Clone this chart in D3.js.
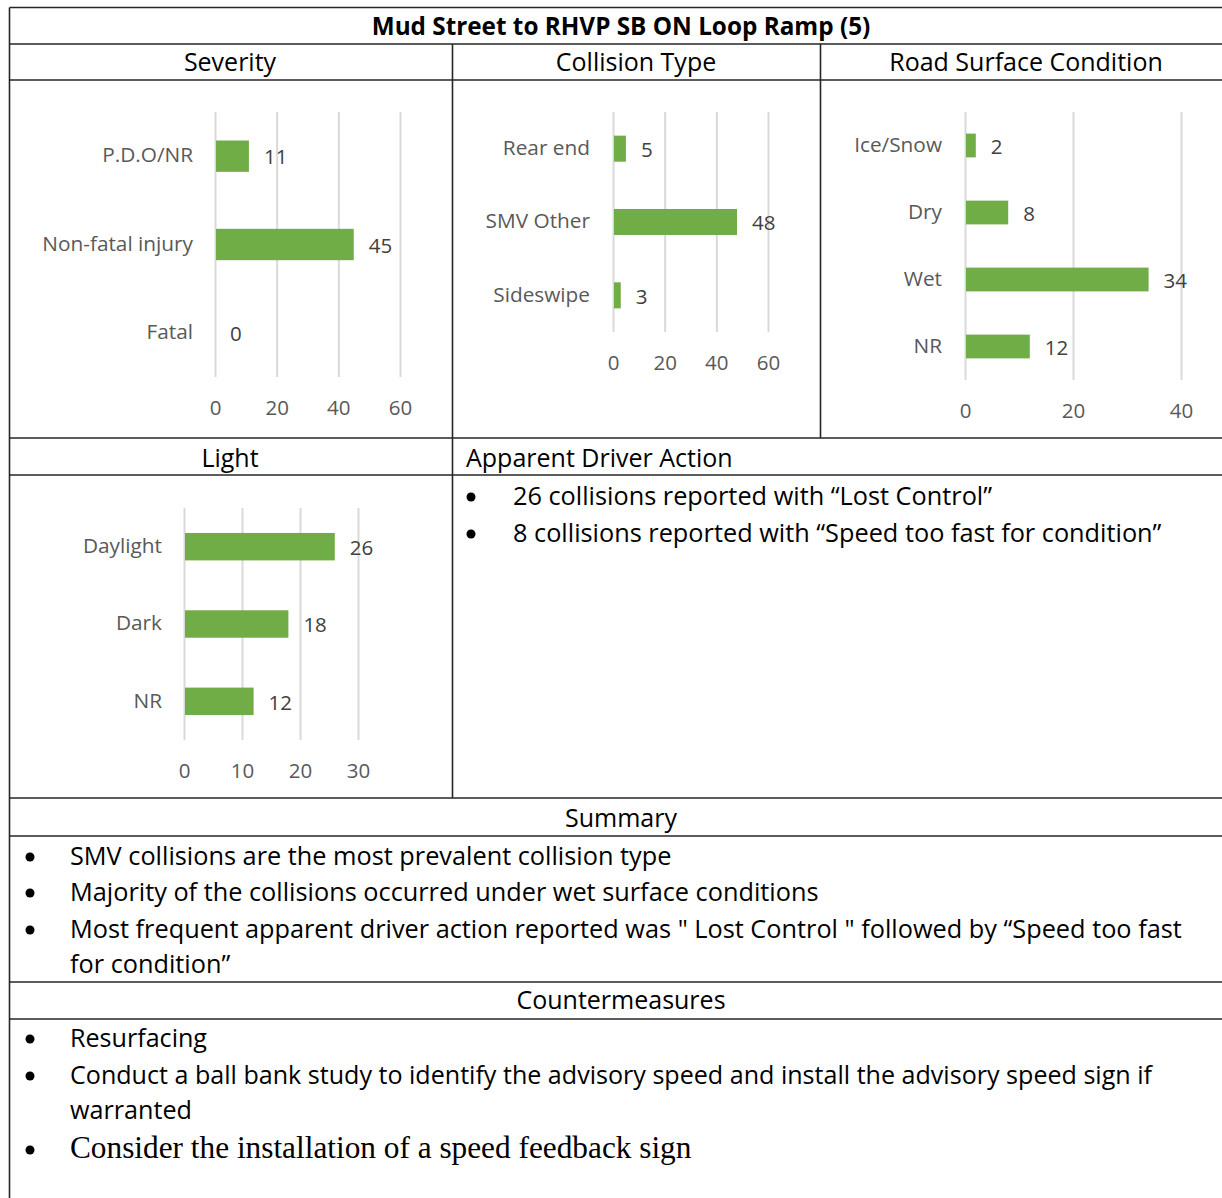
<!DOCTYPE html>
<html>
<head>
<meta charset="utf-8">
<script src="https://cdn.jsdelivr.net/npm/d3@7"></script>
<style>
  body { margin: 0; background: #fff; }
  svg text { font-family: "Open Sans", Lato, "Noto Sans", sans-serif; }
</style>
</head>
<body>
<div id="chart"></div>
<script>
// Data
const title = "Mud Street to RHVP SB ON Loop Ramp (5)";

const severityCats = ["P.D.O/NR", "Non-fatal injury", "Fatal"];
const severityVals = [11, 45, 0];
const severityTicks = [0, 20, 40, 60];

const collisionCats = ["Rear end", "SMV Other", "Sideswipe"];
const collisionVals = [5, 48, 3];
const collisionTicks = [0, 20, 40, 60];

const surfaceCats = ["Ice/Snow", "Dry", "Wet", "NR"];
const surfaceVals = [2, 8, 34, 12];
const surfaceTicks = [0, 20, 40];

const lightCats = ["Daylight", "Dark", "NR"];
const lightVals = [26, 18, 12];
const lightTicks = [0, 10, 20, 30];

const driverActions = [
  "26 collisions reported with \u201cLost Control\u201d",
  "8 collisions reported with \u201cSpeed too fast for condition\u201d"
];
const summaryLines = [
  "SMV collisions are the most prevalent collision type",
  "Majority of the collisions occurred under wet surface conditions",
  "Most frequent apparent driver action reported was \" Lost Control \" followed by \u201cSpeed too fast",
  "for condition\u201d"
];
const summaryBullets = [true, true, true, false];
const countermeasures = [
  "Resurfacing",
  "Conduct a ball bank study to identify the advisory speed and install the advisory speed sign if",
  "warranted",
  "Consider the installation of a speed feedback sign"
];
const counterBullets = [true, true, false, true];

const width = 1222;
const height = 1198;
const barColor = "#70ad47";
const gridColor = "#d9d9d9";
const labelColor = "#595959";
const lineColor = "#262626";
const chartFont = 20.8;
const textFont = 25.3;

const svg = d3.select("#chart")
  .append("svg")
  .attr("width", width)
  .attr("height", height);

// Table grid
const L = 9.5, R = 1224;
const rows = [7.5, 44, 80, 438, 475, 798, 836, 982, 1019];
const grid = svg.append("g")
  .attr("stroke", lineColor)
  .attr("stroke-width", 1.6)
  .attr("fill", "none");
rows.forEach(y => grid.append("line").attr("x1", L).attr("x2", R).attr("y1", y).attr("y2", y));
grid.append("line").attr("x1", L).attr("x2", L).attr("y1", 7.5).attr("y2", height);
grid.append("line").attr("x1", 452.5).attr("x2", 452.5).attr("y1", 44).attr("y2", 798);
grid.append("line").attr("x1", 820.5).attr("x2", 820.5).attr("y1", 44).attr("y2", 438);

// Header texts
function header(x, y, txt, anchor = "middle", weight = "normal", size = 25) {
  return svg.append("text")
    .attr("x", x).attr("y", y)
    .attr("text-anchor", anchor)
    .attr("font-size", size)
    .attr("font-weight", weight)
    .attr("fill", "#000")
    .text(txt);
}
header(621, 35, title, "middle", "bold", 24.3);
header(230, 71, "Severity");
header(636, 71, "Collision Type");
header(1026, 71, "Road Surface Condition");
header(230, 467, "Light");
header(466, 467, "Apparent Driver Action", "start");
header(621, 827, "Summary");
header(621, 1009, "Countermeasures");

// Bar chart helper
function barChart(cats, vals, ticks, x0, x1, y0, y1, labelGap) {
  const g = svg.append("g");
  const x = d3.scaleLinear().domain([0, d3.max(ticks)]).range([x0, x1]);
  const y = d3.scaleBand().domain(cats).range([y0, y1])
    .paddingInner(0.645).paddingOuter(0.3225);

  // gridlines
  g.append("g")
    .attr("transform", `translate(0,${y1})`)
    .call(d3.axisBottom(x).tickValues(ticks).tickSize(-(y1 - y0)).tickFormat(""))
    .call(a => a.select(".domain").remove())
    .call(a => a.selectAll("line").attr("stroke", gridColor).attr("stroke-width", 2));

  // tick labels
  g.append("g")
    .attr("transform", `translate(0,${y1})`)
    .call(d3.axisBottom(x).tickValues(ticks).tickSize(0).tickPadding(23))
    .call(a => a.select(".domain").remove())
    .call(a => a.selectAll("text")
      .attr("font-size", 20.5)
      .attr("fill", labelColor)
      .attr("font-family", "'Open Sans', Lato, 'Noto Sans', sans-serif"));

  // bars
  g.selectAll("rect.bar")
    .data(cats)
    .join("rect")
    .attr("class", "bar")
    .attr("x", x(0) + 1)
    .attr("y", d => y(d))
    .attr("width", (d, i) => Math.max(0, x(vals[i]) - x(0) - 1))
    .attr("height", y.bandwidth())
    .attr("fill", barColor);

  // category labels
  g.selectAll("text.cat")
    .data(cats)
    .join("text")
    .attr("class", "cat")
    .attr("x", x(0) - labelGap)
    .attr("y", d => y(d) + y.bandwidth() / 2 - 1)
    .attr("dy", "0.35em")
    .attr("text-anchor", "end")
    .attr("font-size", chartFont)
    .attr("fill", labelColor)
    .text(d => d);

  // value labels
  g.selectAll("text.val")
    .data(cats)
    .join("text")
    .attr("class", "val")
    .attr("x", (d, i) => x(vals[i]) + 15)
    .attr("y", d => y(d) + y.bandwidth() / 2 + 1)
    .attr("dy", "0.35em")
    .attr("font-size", 20.5)
    .attr("fill", "#404040")
    .text((d, i) => vals[i]);
}

barChart(severityCats, severityVals, severityTicks, 215, 400, 112, 377, 22);
barChart(collisionCats, collisionVals, collisionTicks, 613, 768, 112, 332, 23);
barChart(surfaceCats, surfaceVals, surfaceTicks, 965, 1181, 112, 380, 23);
barChart(lightCats, lightVals, lightTicks, 184, 358, 508, 740, 22);

// Bulleted text blocks
function bullets(lines, flags, bx, tx, ys, opts = {}) {
  lines.forEach((t, i) => {
    if (flags[i]) {
      svg.append("circle")
        .attr("cx", bx).attr("cy", ys[i] - 8)
        .attr("r", 4.5)
        .attr("fill", "#000");
    }
    const el = svg.append("text")
      .attr("x", tx).attr("y", ys[i])
      .attr("font-size", (opts.sizes && opts.sizes[i]) || textFont)
      .attr("fill", "#000")
      .text(t);
    if (opts.fonts && opts.fonts[i]) el.style("font-family", opts.fonts[i]);
    if (opts.widths && opts.widths[i]) {
      el.attr("textLength", opts.widths[i]).attr("lengthAdjust", "spacingAndGlyphs");
    }
  });
}

bullets(driverActions, [true, true], 471, 513, [505, 542]);
bullets(summaryLines, summaryBullets, 30, 70, [865, 901, 938, 973]);
bullets(countermeasures, counterBullets, 30, 70, [1047, 1084, 1119, 1158], {
  sizes: [25, 25, 25, 31.3],
  fonts: [null, null, null, "'Liberation Serif', 'DejaVu Serif', serif"],
  widths: [137, 1082, 122, null]
});
</script>
</body>
</html>
